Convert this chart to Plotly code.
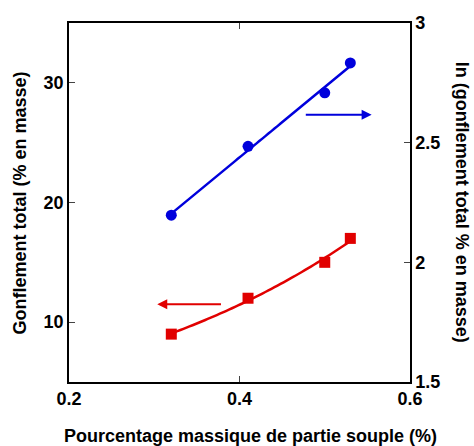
import numpy as np
import plotly.graph_objects as go

# Soft-segment mass fraction and total swelling
soft_fraction = [0.32, 0.41, 0.50, 0.53]
swelling = [9, 12, 15, 17]          # % by mass (left axis)
ln_swelling = list(np.log(swelling))  # ln of swelling (right axis)

x_ticks = [0.2, 0.4, 0.6]
left_ticks = [10, 20, 30]
right_ticks = [1.5, 2, 2.5, 3]

BLUE = "rgb(0,0,220)"
RED = "rgb(225,0,0)"
FONT = "Liberation Sans, Arial, sans-serif"

# Linear fit of ln(swelling) vs soft fraction -> exponential curve for swelling
slope, intercept = np.polyfit(soft_fraction, ln_swelling, 1)
xf = np.linspace(min(soft_fraction), max(soft_fraction), 60)
ln_fit = slope * xf + intercept
sw_fit = np.exp(ln_fit)

fig = go.Figure()

fig.add_trace(go.Scatter(x=xf, y=sw_fit, mode="lines",
                         line=dict(color=RED, width=2.5, simplify=False), yaxis="y",
                         showlegend=False, hoverinfo="skip"))
fig.add_trace(go.Scatter(x=soft_fraction, y=swelling, mode="markers",
                         marker=dict(symbol="square", size=11, color=RED),
                         yaxis="y", showlegend=False))

fig.add_trace(go.Scatter(x=xf, y=ln_fit, mode="lines",
                         line=dict(color=BLUE, width=2.5, simplify=False), yaxis="y2",
                         showlegend=False, hoverinfo="skip"))
fig.add_trace(go.Scatter(x=soft_fraction, y=ln_swelling, mode="markers",
                         marker=dict(symbol="circle", size=11, color=BLUE),
                         yaxis="y2", showlegend=False))

tickfont = dict(family=FONT, size=18, color="black", weight="bold")
titlefont = dict(family=FONT, size=18, color="black", weight="bold")

fig.update_layout(
    width=474, height=446,
    margin=dict(l=69, r=64, t=23, b=64),
    paper_bgcolor="white", plot_bgcolor="white",
    font=dict(family=FONT, color="black"),
    xaxis=dict(range=[0.2, 0.6], tickvals=x_ticks, ticktext=["0.2", "0.4", "0.6"],
               showgrid=False, zeroline=False, showline=True, linecolor="black",
               linewidth=1.5, mirror="ticks", ticks="inside", ticklen=6,
               tickcolor="#444", tickfont=tickfont, automargin=False),
    yaxis=dict(range=[5, 35], tickvals=left_ticks, showgrid=False, zeroline=False,
               showline=True, linecolor="black", linewidth=1.5,
               ticks="inside", ticklen=6, tickcolor="#444", tickfont=tickfont,
               automargin=False),
    yaxis2=dict(range=[1.5, 3], tickvals=right_ticks, ticktext=["1.5", "2", "2.5", "3"],
                overlaying="y", side="right", showgrid=False, zeroline=False,
                showline=True, linecolor="black", linewidth=1.5,
                ticks="inside", ticklen=6, tickcolor="#444", tickfont=tickfont,
                automargin=False),
)

# Axis titles
fig.add_annotation(text="Pourcentage massique de partie souple (%)", xref="paper",
                   yref="paper", x=0.531, y=-0.150, xanchor="center", yanchor="middle",
                   showarrow=False, font=titlefont)
fig.add_annotation(text="Gonflement total (% en masse)", xref="paper", yref="paper",
                   x=-0.1437, y=0.5, xanchor="center", yanchor="middle",
                   textangle=-90, showarrow=False, font=titlefont)
fig.add_annotation(text="ln (gonflement total % en masse)", xref="paper", yref="paper",
                   x=1.155, y=0.5, xanchor="center", yanchor="middle",
                   textangle=90, showarrow=False, font=titlefont)

# Arrows pointing each series to its axis
fig.add_annotation(x=0.3035, y=11.5, ax=0.38, ay=11.5, xref="x", yref="y",
                   axref="x", ayref="y", text="", showarrow=True,
                   arrowhead=2, arrowsize=1, arrowwidth=2, arrowcolor=RED)
fig.add_annotation(x=0.555, y=2.617, ax=0.476, ay=2.617, xref="x", yref="y2",
                   axref="x", ayref="y2", text="", showarrow=True,
                   arrowhead=2, arrowsize=1, arrowwidth=2, arrowcolor=BLUE)

fig.write_html("out.html")
